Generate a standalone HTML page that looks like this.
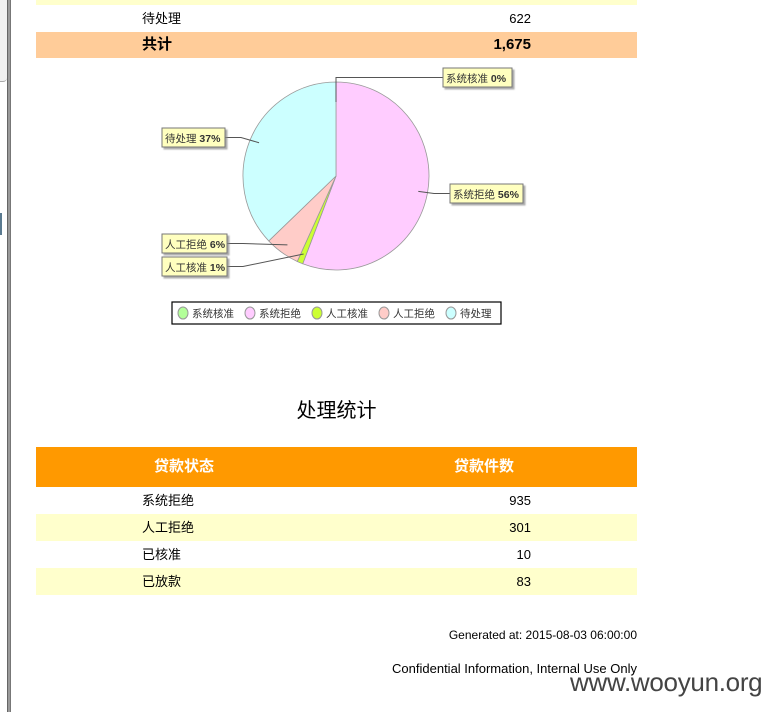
<!DOCTYPE html>
<html><head><meta charset="utf-8">
<style>
*{margin:0;padding:0;box-sizing:border-box}
body{width:778px;height:712px;background:#fff;position:relative;overflow:hidden;font-family:"Liberation Sans","Noto Sans CJK SC",sans-serif;font-size:13px;color:#000}
.abs{position:absolute}
.row{position:absolute;left:36px;width:601px}
.c1{position:absolute;left:106px}
.c2{position:absolute;right:106px}
</style></head>
<body>
<div class="abs" style="left:7px;top:0;width:4px;height:712px;background:#9a9a9a;border-left:1px solid #666;border-right:1px solid #777"></div>
<div class="abs" style="left:0;top:0;width:7px;height:82px;background:#f0f0f0;border-bottom-right-radius:4px;border-bottom:1px solid #aaa"></div>
<div class="abs" style="left:0;top:213px;width:2px;height:22px;background:#5a7a90"></div>

<div class="row" style="top:0;height:5px;background:#ffffcc"></div>
<div class="row" style="top:5px;height:27px;line-height:27px">
  <span class="c1">待处理</span><span class="c2">622</span></div>
<div class="row" style="top:32px;height:26px;line-height:26px;background:#ffcc99;font-weight:bold;font-size:15px">
  <span class="c1">共计</span><span class="c2">1,675</span></div>

<svg class="abs" style="left:0;top:0" width="778" height="340">
<defs><filter id="sh" x="-10%" y="-10%" width="130%" height="140%"><feDropShadow dx="2" dy="2" stdDeviation="0.8" flood-color="#888" flood-opacity="0.7"/></filter></defs>
<g id="pie"></g>
<g id="labels"></g>
<g id="legend"></g>
</svg>
<script>
const categories=["系统核准","系统拒绝","人工核准","人工拒绝","待处理"];
const values=[0,935,17,101,622];
const pctLabels=["0%","56%","1%","6%","37%"];
const colors=["#b3ff99","#ffccff","#ccff33","#ffccc8","#ccffff"];
const NS="http://www.w3.org/2000/svg";
const cx=336,cy=176,rx=93,ry=94;
const total=values.reduce((a,b)=>a+b,0);
function pt(a,s){return [cx+rx*s*Math.sin(a),cy-ry*s*Math.cos(a)];}
const pie=document.getElementById('pie'),lab=document.getElementById('labels'),leg=document.getElementById('legend');
let ang=0;
const boxes=[[443,68,'r'],[450,184,'r'],[162,257,'l'],[162,234,'l'],[162,128,'l']];
values.forEach((v,i)=>{
  const a0=ang,a1=ang+v/total*2*Math.PI;ang=a1;
  const p0=pt(a0,1),p1=pt(a1,1);
  const large=(a1-a0)>Math.PI?1:0;
  const p=document.createElementNS(NS,'path');
  p.setAttribute('d',`M${cx},${cy} L${p0[0]},${p0[1]} A${rx},${ry} 0 ${large} 1 ${p1[0]},${p1[1]} Z`);
  p.setAttribute('fill',colors[i]);p.setAttribute('stroke','#999');p.setAttribute('stroke-width','0.8');
  
  
  pie.appendChild(p);
  const mid=(a0+a1)/2,inner=pt(mid,0.9);
  const b=boxes[i];
  const w=i===1?73:(i===0?69:(i===4?63:65));
  const by=b[1]+9.5;
  const bx=b[2]=='r'?b[0]:b[0]+w;
  const knee=b[2]=='r'?bx-16:bx+16;
  const ln=document.createElementNS(NS,'polyline');
  let pts;
  if(i===0){pts=`${inner[0]},${cy-ry+20} ${cx},${by} ${bx},${by}`;}
  else pts=`${inner[0]},${inner[1]} ${knee},${by} ${bx},${by}`;
  ln.setAttribute('points',pts);ln.setAttribute('fill','none');ln.setAttribute('stroke','#555');ln.setAttribute('stroke-width','1');
  
  
  lab.appendChild(ln);
  const r=document.createElementNS(NS,'rect');
  r.setAttribute('x',b[0]);r.setAttribute('y',b[1]);r.setAttribute('width',w);r.setAttribute('height',19);
  r.setAttribute('fill','#ffffbf');r.setAttribute('stroke','#777');r.setAttribute('filter','url(#sh)');
  
  
  lab.appendChild(r);
  const t=document.createElementNS(NS,'text');
  t.setAttribute('x',b[0]+3);t.setAttribute('y',b[1]+14);t.setAttribute('font-size','10.5');t.setAttribute('fill','#333');
  const s1=document.createElementNS(NS,'tspan');s1.textContent=categories[i]+' ';
  const s2=document.createElementNS(NS,'tspan');s2.textContent=pctLabels[i];s2.setAttribute('font-weight','bold');
  t.appendChild(s1);t.appendChild(s2);
  
  
  lab.appendChild(t);
});
const lb=document.createElementNS(NS,'rect');
lb.setAttribute('x',172);lb.setAttribute('y',302);lb.setAttribute('width',329);lb.setAttribute('height',22);
lb.setAttribute('fill','#fff');lb.setAttribute('stroke','#000');lb.setAttribute('stroke-width','1.2');


leg.appendChild(lb);
let lx=181;
categories.forEach((c,i)=>{
  const e=document.createElementNS(NS,'ellipse');
  e.setAttribute('cx',lx+2);e.setAttribute('cy',313);e.setAttribute('rx',5);e.setAttribute('ry',6);
  e.setAttribute('fill',colors[i]);e.setAttribute('stroke','#999');
  
  
  leg.appendChild(e);
  const t=document.createElementNS(NS,'text');
  t.setAttribute('x',lx+11);t.setAttribute('y',317);t.setAttribute('font-size','10.5');t.setAttribute('fill','#333');
  t.textContent=c;
  
  
  leg.appendChild(t);
  lx+=c.length*10.5+25;
});
</script>

<div class="abs" style="left:36px;width:601px;top:394px;text-align:center;font-size:20px">处理统计</div>

<div class="row" style="top:447px;height:40px;line-height:40px;background:#ff9900;color:#fff;font-weight:bold;font-size:15px">
  <span class="abs" style="left:118px">贷款状态</span><span class="abs" style="left:418px">贷款件数</span></div>
<div class="row" style="top:487px;height:27px;line-height:27px"><span class="c1">系统拒绝</span><span class="c2">935</span></div>
<div class="row" style="top:514px;height:27px;line-height:27px;background:#ffffcc"><span class="c1">人工拒绝</span><span class="c2">301</span></div>
<div class="row" style="top:541px;height:27px;line-height:27px"><span class="c1">已核准</span><span class="c2">10</span></div>
<div class="row" style="top:568px;height:27px;line-height:27px;background:#ffffcc"><span class="c1">已放款</span><span class="c2">83</span></div>

<div class="abs" style="right:141px;top:628px;font-size:12px">Generated at: 2015-08-03 06:00:00</div>
<div class="abs" style="right:141px;top:661px;font-size:13px">Confidential Information, Internal Use Only</div>
<div class="abs" style="left:570px;top:667px;font-size:26px;color:#444;letter-spacing:-0.3px">www.wooyun.org</div>
</body></html>
